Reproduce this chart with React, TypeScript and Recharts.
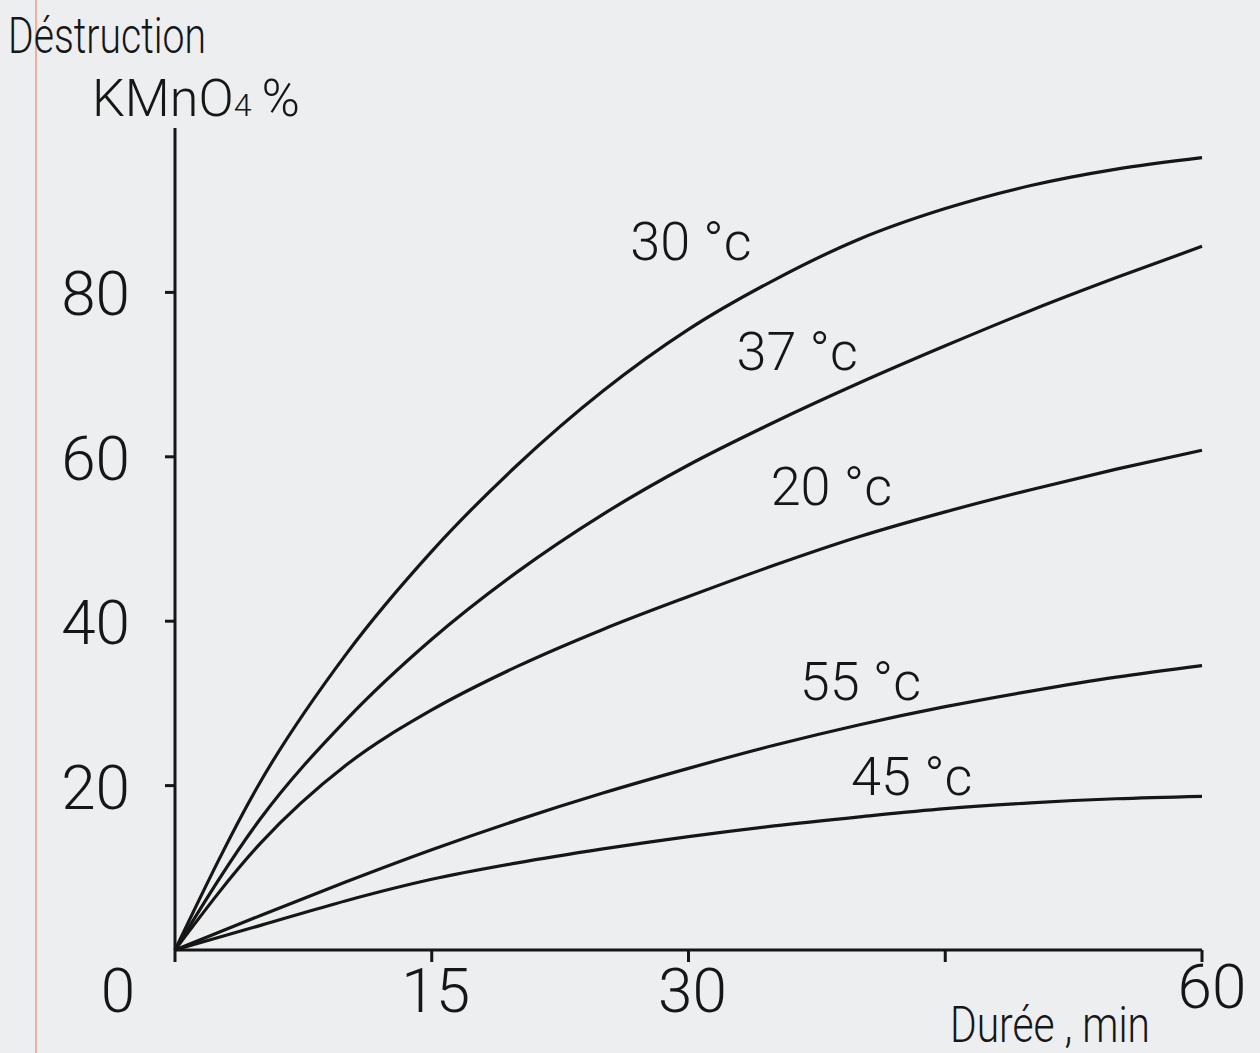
import { LineChart, Line, XAxis, YAxis, ReferenceDot } from 'recharts'

// durée (min) et destruction KMnO4 (%)
const minutes = [0, 5, 10, 15, 20, 25, 30, 35, 40, 45, 50, 55, 60]
const temp30 = [0, 20.5, 36, 48.5, 59, 68, 75.5, 81.5, 86.5, 90.2, 93, 95, 96.4]
const temp37 = [0, 16, 28, 37.8, 46, 53, 59, 64.2, 69, 73.5, 77.8, 81.8, 85.6]
const temp20 = [0, 13, 22.5, 29.2, 34.5, 39, 43, 46.8, 50.3, 53.3, 56, 58.5, 60.8]
const temp55 = [0, 4.2, 8.3, 12.2, 15.8, 19.1, 22.1, 24.9, 27.4, 29.6, 31.5, 33.2, 34.6]
const temp45 = [0, 3, 6, 8.6, 10.6, 12.3, 13.8, 15.1, 16.2, 17.2, 17.9, 18.4, 18.7]

const xTicks = [0, 15, 30, 45, 60]
const xTickLabels = ['0', '15', '30', '', '60']
const yTicks = [20, 40, 60, 80]

const seriesKeys = ['t30', 't37', 't20', 't55', 't45']
const seriesNames = ['30 °c', '37 °c', '20 °c', '55 °c', '45 °c']

// where each curve name sits (data coords)
const labelAt = [
  { x: 26.6, y: 83.9 },
  { x: 32.8, y: 70.6 },
  { x: 34.8, y: 54.1 },
  { x: 36.5, y: 30.4 },
  { x: 39.5, y: 18.9 },
]

const data = minutes.map((t, i) => ({
  t,
  t30: temp30[i],
  t37: temp37[i],
  t20: temp20[i],
  t55: temp55[i],
  t45: temp45[i],
}))

const FONT = 'Roboto, "DejaVu Sans", sans-serif'
const INK = '#161616'

function XTick(props: any) {
  const { x, y, payload, index } = props
  const label = xTickLabels[index] ?? ''
  const dx = payload.value === 0 ? -57 : payload.value === 60 ? 10 : 4
  const dy = payload.value === 60 ? 46 : 50
  return (
    <text
      x={x + dx}
      y={y + dy}
      textAnchor="middle"
      fontFamily={FONT}
      fontWeight={300}
      fontSize={62}
      fill={INK}
    >
      {label}
    </text>
  )
}

function YTick(props: any) {
  const { x, y, payload } = props
  return (
    <text
      x={x - 35}
      y={y + 23}
      textAnchor="end"
      fontFamily={FONT}
      fontWeight={300}
      fontSize={62}
      fill={INK}
    >
      {payload.value}
    </text>
  )
}

function CurveLabel(props: any) {
  const { viewBox, text } = props
  if (!viewBox) return null
  return (
    <text
      x={viewBox.x}
      y={viewBox.y}
      fontFamily={FONT}
      fontWeight={300}
      fontSize={54}
      fill={INK}
    >
      {text}
    </text>
  )
}

export default function App() {
  return (
    <div
      style={{
        position: 'absolute',
        left: 0,
        top: 0,
        width: 1260,
        height: 1053,
        background: '#edeeef',
        overflow: 'hidden',
      }}
    >
      {/* margin line of the paper */}
      <div
        style={{
          position: 'absolute',
          left: 35,
          top: 0,
          width: 2,
          height: 1053,
          background: '#eab3a6',
        }}
      />
      <LineChart
        width={1260}
        height={1053}
        data={data}
        margin={{ top: 128, right: 58, bottom: 0, left: 0 }}
        style={{ position: 'absolute', left: 0, top: 0 }}
      >
        <XAxis
          type="number"
          dataKey="t"
          domain={[0, 60]}
          ticks={xTicks}
          height={103}
          tickSize={12}
          tickMargin={0}
          axisLine={{ stroke: INK, strokeWidth: 3 }}
          tickLine={{ stroke: INK, strokeWidth: 3 }}
          tick={<XTick />}
          interval={0}
        />
        <YAxis
          type="number"
          domain={[0, 100]}
          ticks={yTicks}
          width={175}
          tickSize={10}
          tickMargin={0}
          axisLine={{ stroke: INK, strokeWidth: 3 }}
          tickLine={{ stroke: INK, strokeWidth: 3 }}
          tick={<YTick />}
          interval={0}
        />
        {seriesKeys.map((k) => (
          <Line
            key={k}
            type="monotone"
            dataKey={k}
            stroke={INK}
            strokeWidth={3.2}
            dot={false}
            activeDot={false}
            isAnimationActive={false}
          />
        ))}
        {labelAt.map((p, i) => (
          <ReferenceDot
            key={seriesNames[i]}
            x={p.x}
            y={p.y}
            r={0}
            fill="none"
            stroke="none"
            label={<CurveLabel text={seriesNames[i]} />}
          />
        ))}
      </LineChart>
      <svg
        width={1260}
        height={1053}
        style={{ position: 'absolute', left: 0, top: 0, pointerEvents: 'none' }}
      >
        <text
          x={8}
          y={53}
          fontFamily={FONT}
          fontWeight={300}
          fontSize={50}
          fill={INK}
          textLength={198}
          lengthAdjust="spacingAndGlyphs"
        >
          Déstruction
        </text>
        <text x={92} y={116} fontFamily={FONT} fontWeight={300} fontSize={52} fill={INK}>
          KMnO
          <tspan fontSize={32}>4</tspan>
          <tspan dx={10}>%</tspan>
        </text>
        <text
          x={950}
          y={1042}
          fontFamily={FONT}
          fontWeight={300}
          fontSize={50}
          fill={INK}
          textLength={200}
          lengthAdjust="spacingAndGlyphs"
        >
          Durée , min
        </text>
      </svg>
    </div>
  )
}
